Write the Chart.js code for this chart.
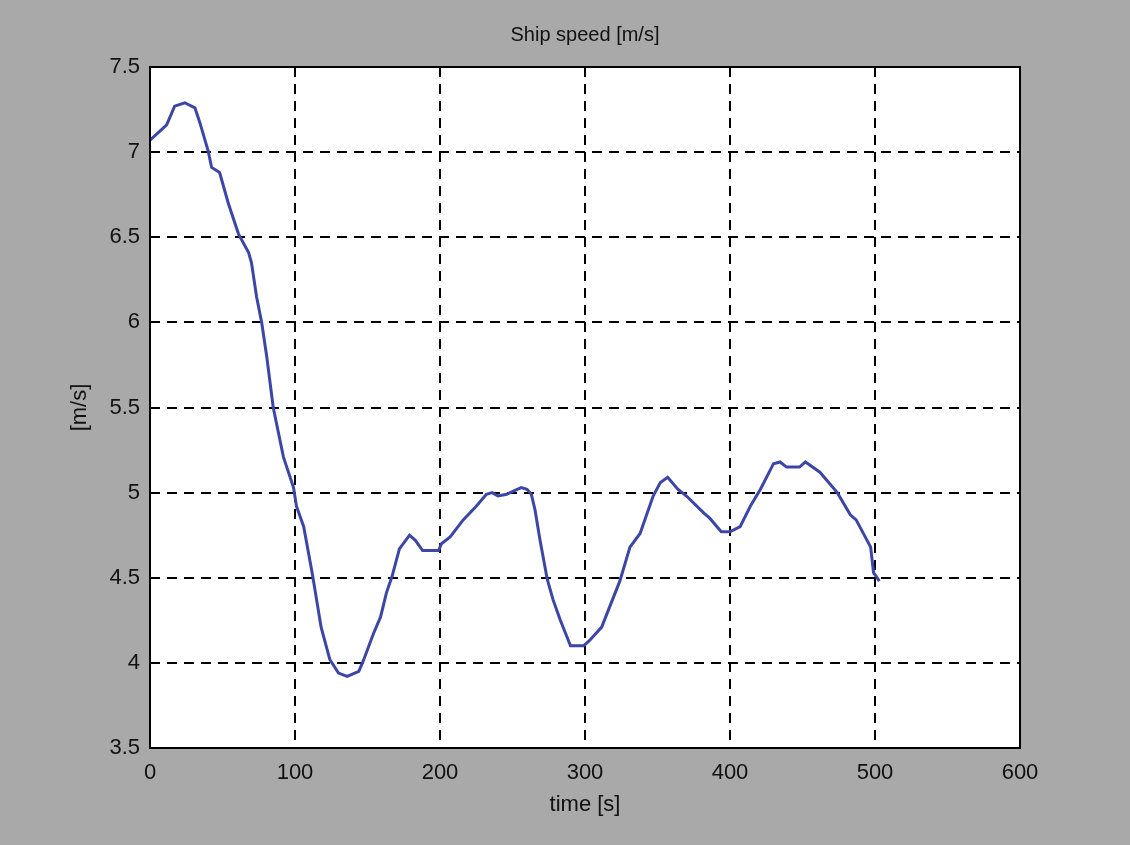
<!DOCTYPE html>
<html>
<head>
<meta charset="utf-8">
<title>Ship speed</title>
<script src="https://cdn.jsdelivr.net/npm/chart.js@4"></script>
<style>
  body { margin: 0; background: #a9a9a9; }
  canvas { display: block; }
</style>
</head>
<body>
<canvas id="myChart" width="1130" height="845"></canvas>
<script>
// data
var times = [0, 11.5, 17, 24, 31, 34.5, 40, 42.5, 48, 54,
    61, 68, 70, 73.5, 77, 80.5, 85, 92, 99, 101,
    106, 112, 118, 124, 130, 136, 144, 147, 154, 159,
    163, 167, 172, 179, 183, 188, 199, 201, 207, 216,
    225, 232, 236, 240, 246, 251, 256, 260, 263, 265.5,
    269, 274, 278, 283, 290, 299, 303, 311.5, 324, 331,
    338, 347, 352, 357, 364, 370, 382, 386, 394, 400,
    407, 414, 421, 430, 434.5, 439, 448, 452, 462, 474,
    483, 487, 497, 499, 503];
var speeds = [7.07, 7.16, 7.27, 7.29, 7.26, 7.17, 7.01, 6.91, 6.88, 6.70,
    6.52, 6.41, 6.35, 6.15, 6.0, 5.80, 5.50, 5.21, 5.03, 4.92,
    4.80, 4.52, 4.21, 4.02, 3.94, 3.92, 3.95, 4.01, 4.17, 4.27,
    4.41, 4.51, 4.67, 4.75, 4.72, 4.66, 4.66, 4.70, 4.74, 4.84,
    4.92, 4.99, 5.00, 4.98, 4.99, 5.01, 5.03, 5.02, 4.99, 4.90,
    4.72, 4.49, 4.37, 4.25, 4.10, 4.10, 4.13, 4.21, 4.48, 4.68,
    4.76, 4.98, 5.06, 5.09, 5.02, 4.98, 4.88, 4.85, 4.77, 4.77,
    4.80, 4.92, 5.02, 5.17, 5.18, 5.15, 5.15, 5.18, 5.12, 5.00,
    4.87, 4.84, 4.68, 4.53, 4.48];
var chartTitle = 'Ship speed [m/s]';

var points = times.map(function (t, i) {
    return { x: t, y: speeds[i] };
});

var family = "'Liberation Sans', Arial, sans-serif";
var font = { family: family, size: 22 };

// white plot box, black frame and the title over the plot box
const frame = {
    id: 'frame',
    beforeDraw: function (chart) {
        var ctx = chart.ctx, a = chart.chartArea;
        ctx.save();
        ctx.fillStyle = '#a9a9a9';
        ctx.fillRect(0, 0, chart.width, chart.height);
        ctx.fillStyle = '#ffffff';
        ctx.fillRect(a.left, a.top, a.right - a.left, a.bottom - a.top);
        ctx.restore();
    },
    afterDraw: function (chart) {
        var ctx = chart.ctx, a = chart.chartArea;
        ctx.save();
        ctx.strokeStyle = '#000';
        ctx.lineWidth = 2;
        ctx.strokeRect(a.left, a.top, a.right - a.left, a.bottom - a.top);
        ctx.fillStyle = '#111';
        ctx.font = '20px ' + family;
        ctx.textAlign = 'center';
        ctx.textBaseline = 'middle';
        ctx.fillText(chartTitle, (a.left + a.right) / 2, 35);
        ctx.restore();
    }
};

const config = {
    type: 'line',
    data: {
        datasets: [{
            label: 'speed',
            data: points,
            borderColor: '#3b46a6',
            borderWidth: 3,
            pointRadius: 0,
            tension: 0,
            fill: false
        }]
    },
    options: {
        responsive: false,
        animation: false,
        layout: { padding: { top: 67, right: 110, left: 0, bottom: 0 } },
        plugins: {
            legend: { display: false },
            tooltip: { enabled: false },
            title: { display: false }
        },
        scales: {
            x: {
                type: 'linear',
                min: 0,
                max: 600,
                ticks: { stepSize: 100, color: '#111', font: font, padding: 12 },
                grid: { color: '#000', lineWidth: 2, drawTicks: false },
                border: { display: false, dash: [10, 7] },
                title: { display: true, text: 'time [s]', color: '#111', font: font, padding: { top: 0, bottom: 27 } },
                afterFit: function (scale) { scale.height = 97; }
            },
            y: {
                type: 'linear',
                min: 3.5,
                max: 7.5,
                ticks: {
                    stepSize: 0.5, color: '#111', font: font, padding: 10,
                    callback: function (v) { return String(v); }
                },
                grid: { color: '#000', lineWidth: 2, drawTicks: false },
                border: { display: false, dash: [10, 7] },
                title: { display: true, text: '[m/s]', color: '#111', font: font, padding: { top: 67, bottom: 0 } },
                afterFit: function (scale) { scale.width = 150; }
            }
        }
    },
    plugins: [frame]
};

const myChart = new Chart(document.getElementById('myChart'), config);
</script>
</body>
</html>
